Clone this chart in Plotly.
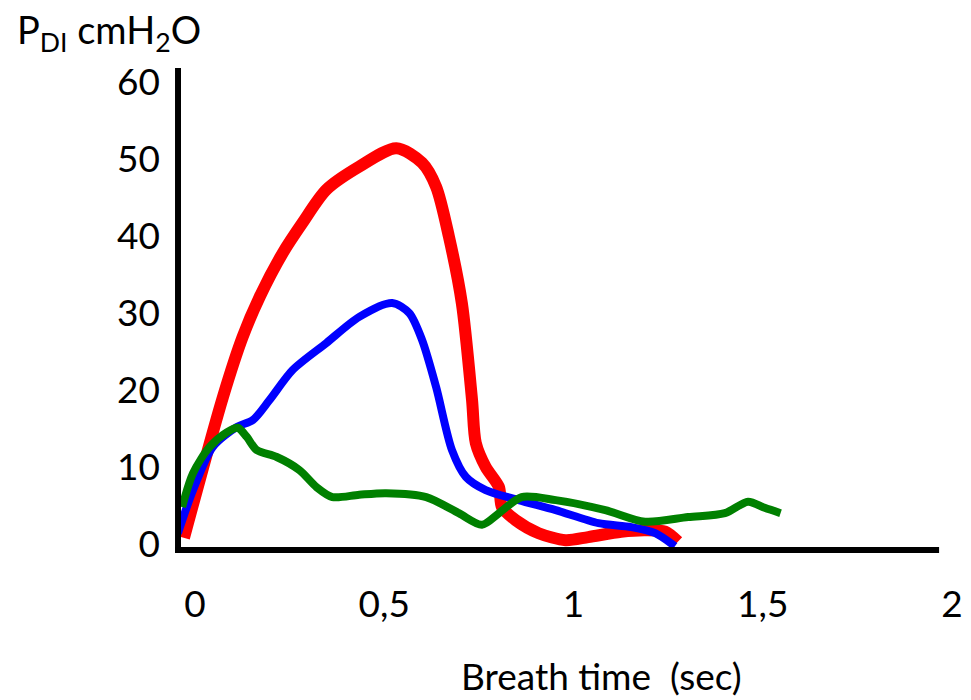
import plotly.graph_objects as go

# ---- data ----
red_x = [-0.029, 0.074, 0.126, 0.171, 0.232, 0.284, 0.347, 0.434, 0.532, 0.600, 0.637, 0.671, 0.705, 0.732, 0.742, 0.768, 0.803, 0.811, 0.847, 0.908, 0.979, 1.039, 1.126, 1.189, 1.242, 1.276]
red_y = [0.8, 19.1, 26.9, 32.1, 37.8, 41.7, 46.0, 49.0, 51.4, 49.5, 46.4, 39.9, 31.3, 18.7, 13.1, 10.0, 7.4, 4.8, 3.1, 1.4, 0.5, 0.9, 1.6, 1.8, 1.6, 0.3]

blue_x = [-0.045, -0.005, 0.047, 0.111, 0.153, 0.197, 0.258, 0.347, 0.434, 0.521, 0.566, 0.600, 0.637, 0.679, 0.716, 0.768, 0.855, 0.953, 1.066, 1.153, 1.216, 1.268]
blue_y = [1.4, 7.0, 12.6, 15.2, 16.1, 18.7, 22.6, 26.1, 29.5, 31.3, 30.0, 26.5, 20.4, 12.2, 8.7, 7.0, 5.7, 4.4, 2.7, 2.2, 1.4, -0.3]

green_x = [-0.034, -0.005, 0.039, 0.084, 0.113, 0.137, 0.163, 0.216, 0.276, 0.321, 0.363, 0.434, 0.505, 0.611, 0.697, 0.758, 0.803, 0.863, 0.953, 1.084, 1.189, 1.303, 1.400, 1.461, 1.505, 1.547]
green_y = [4.8, 9.2, 12.6, 14.5, 15.1, 13.9, 12.2, 11.3, 9.6, 7.4, 6.1, 6.4, 6.6, 6.1, 4.0, 2.5, 4.0, 6.1, 5.7, 4.4, 2.9, 3.5, 4.0, 5.5, 4.7, 4.0]

x_tick_vals = [0, 0.5, 1, 1.5, 2]
x_tick_text = ["0", "0,5", "1", "1,5", "2"]
y_tick_vals = [0, 10, 20, 30, 40, 50, 60]
y_tick_text = ["0", "10", "20", "30", "40", "50", "60"]

x_title = "Breath time\u00a0 (sec)"
y_title = "P<sub>DI</sub> cmH<sub>2</sub>O"

FONT = "Lato"
W, H = 971, 700
L, R, T, B = 181, 8, 68, 153  # margins

fig = go.Figure()
fig.add_trace(go.Scatter(x=red_x, y=red_y, mode="lines",
                         line=dict(color="#ff0000", width=12, shape="spline", smoothing=0.8)))
fig.add_trace(go.Scatter(x=blue_x, y=blue_y, mode="lines",
                         line=dict(color="#0000ff", width=8, shape="spline", smoothing=0.8)))
fig.add_trace(go.Scatter(x=green_x, y=green_y, mode="lines",
                         line=dict(color="#008000", width=8, shape="spline", smoothing=0.8)))

plot_w = W - L - R
plot_h = H - T - B
# axis bars (drawn as shapes in paper coordinates)
fig.add_shape(type="rect", xref="paper", yref="paper",
              x0=-6 / plot_w, x1=0, y0=-6 / plot_h, y1=1,
              fillcolor="black", line=dict(width=0), layer="above")
fig.add_shape(type="rect", xref="paper", yref="paper",
              x0=-6 / plot_w, x1=(942 - L) / plot_w, y0=-6 / plot_h, y1=0,
              fillcolor="black", line=dict(width=0), layer="above")

x_lo = (L - 195) / 380
x_hi = (W - R - 195) / 380
y_hi = (544 - T) / 7.7
y_lo = (544 - (H - B)) / 7.7

fig.update_layout(
    width=W, height=H,
    margin=dict(l=L, r=R, t=T, b=B),
    plot_bgcolor="white", paper_bgcolor="white",
    showlegend=False,
    font=dict(family=FONT, size=37, color="black"),
    xaxis=dict(range=[x_lo, x_hi], showgrid=False, zeroline=False, showline=False,
               tickvals=x_tick_vals, ticktext=x_tick_text, ticks="",
               ticklabelstandoff=32, tickfont=dict(size=37, family=FONT, color="black")),
    yaxis=dict(range=[y_lo, y_hi], showgrid=False, zeroline=False, showline=False,
               tickvals=y_tick_vals, ticktext=y_tick_text, ticks="",
               ticklabelstandoff=20, tickfont=dict(size=37, family=FONT, color="black")),
)

fig.add_annotation(text=y_title, xref="paper", yref="paper",
                   x=(14 - L) / plot_w, y=1 + (T - 4) / plot_h,
                   xanchor="left", yanchor="top", showarrow=False,
                   font=dict(size=38, family=FONT, color="black"))
fig.add_annotation(text=x_title, xref="paper", yref="paper",
                   x=(603 - L) / plot_w, y=-(675 - (H - B)) / plot_h,
                   xanchor="center", yanchor="middle", showarrow=False,
                   font=dict(size=37, family=FONT, color="black"))

fig.write_html("out.html")
